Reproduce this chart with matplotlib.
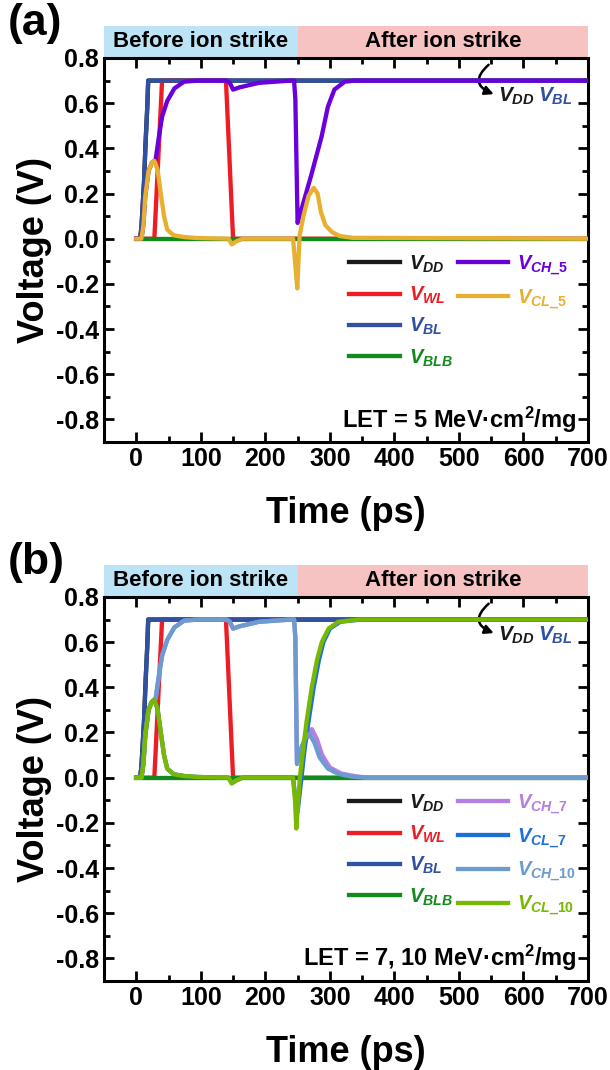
import matplotlib
matplotlib.use('Agg')
import matplotlib.pyplot as plt
from matplotlib.lines import Line2D
from matplotlib.patches import Rectangle
from matplotlib.ticker import MultipleLocator, FuncFormatter

plt.rcParams['font.family'] = ['Liberation Sans', 'DejaVu Sans']
plt.rcParams['font.weight'] = 'bold'
plt.rcParams['axes.labelweight'] = 'bold'
plt.rcParams['mathtext.fontset'] = 'custom'
plt.rcParams['mathtext.it'] = 'Liberation Sans:italic:bold'
plt.rcParams['mathtext.rm'] = 'Liberation Sans:bold'
plt.rcParams['mathtext.bf'] = 'Liberation Sans:bold'
plt.rcParams['axes.linewidth'] = 2.2

# time in ps, voltage in V
# supply and word/bit lines (same in both panels)
t_dd = [0, 6, 8, 12, 14.5, 17, 18.5, 700]
v_dd = [0, 0, 0.05, 0.25, 0.43, 0.58, 0.7, 0.7]
t_bl = [0, 6, 8, 12, 14.5, 17, 18.5, 700]
v_bl = [0, 0, 0.05, 0.25, 0.43, 0.58, 0.7, 0.7]
t_wl = [0, 28, 40, 139, 150, 700]
v_wl = [0, 0, 0.7, 0.7, 0, 0]
t_blb = [0, 700]
v_blb = [0, 0]

# storage nodes before the strike (same for every LET)
t_ch_pre = [0, 8, 11, 14, 19, 24, 30, 35, 40, 48, 59, 74, 95, 140, 145, 150, 160, 190, 240, 244.5]
v_ch_pre = [0, 0, 0.06, 0.19, 0.3, 0.335, 0.35, 0.45, 0.54, 0.61, 0.665, 0.695, 0.7, 0.7, 0.69, 0.66, 0.67, 0.69, 0.7, 0.7]
t_cl_pre = [0, 8, 11, 14, 19, 24, 28, 33, 38, 43, 48, 58, 75, 95, 143, 148, 155, 165, 243]
v_cl_pre = [0, 0, 0.06, 0.19, 0.3, 0.335, 0.345, 0.305, 0.2, 0.1, 0.04, 0.015, 0.007, 0.003, 0, -0.025, -0.012, 0, 0]

# after the strike, LET = 5
t_ch5_post = [246.5, 250, 256, 271, 287, 297, 307, 323, 338, 700]
v_ch5_post = [0.62, 0.07, 0.13, 0.28, 0.45, 0.585, 0.66, 0.695, 0.7, 0.7]
t_cl5_post = [246, 249.5, 253, 259, 267, 275, 281, 286, 293, 303, 315, 335, 700]
v_cl5_post = [-0.1, -0.22, 0.01, 0.1, 0.19, 0.225, 0.2, 0.12, 0.06, 0.03, 0.012, 0.004, 0]

# after the strike, LET = 7 and 10
t_ch7_post = [246.5, 249, 255, 263, 272, 280, 288, 300, 318, 340, 360, 700]
v_ch7_post = [0.62, 0.07, 0.12, 0.17, 0.215, 0.17, 0.1, 0.045, 0.018, 0.006, 0, 0]
t_cl7_post = [246, 250, 256, 261, 267, 275, 283, 290, 300, 316, 348, 700]
v_cl7_post = [-0.08, -0.15, 0.0, 0.13, 0.25, 0.4, 0.52, 0.6, 0.66, 0.69, 0.7, 0.7]
t_ch10_post = [246.5, 249, 254, 261, 268, 276, 284, 297, 313, 333, 355, 700]
v_ch10_post = [0.62, 0.06, 0.12, 0.17, 0.195, 0.155, 0.09, 0.04, 0.017, 0.005, 0, 0]
t_cl10_post = [246, 248, 253.5, 259, 264, 272, 280, 287.5, 298, 313, 344, 700]
v_cl10_post = [-0.1, -0.225, 0.0, 0.135, 0.25, 0.4, 0.52, 0.6, 0.66, 0.69, 0.7, 0.7]

c_dd = '#1a1a1a'
c_wl = '#ee1c25'
c_bl = '#3050a0'
c_blb = '#138a1e'
c_ch5 = '#6a00dc'
c_cl5 = '#e8b030'
c_ch7 = '#b47ee2'
c_cl7 = '#1f6fd8'
c_ch10 = '#6b9bcf'
c_cl10 = '#77b800'

lw = 3.1


def common(ax, let_text):
    ax.set_xlim(-50, 700)
    ax.set_ylim(-0.9, 0.8)
    ax.xaxis.set_major_locator(MultipleLocator(100))
    ax.xaxis.set_minor_locator(MultipleLocator(50))
    ax.yaxis.set_major_locator(MultipleLocator(0.2))
    ax.yaxis.set_minor_locator(MultipleLocator(0.1))
    ax.yaxis.set_major_formatter(FuncFormatter(lambda v, p: '0.0' if abs(v) < 1e-9 else '%.1f' % v))
    ax.tick_params(which='both', direction='in', top=True, right=True, width=2, labelsize=18)
    ax.tick_params(which='major', length=7)
    ax.tick_params(which='minor', length=4)
    ax.set_xlabel('Time (ps)', fontsize=26, labelpad=18)
    ax.set_ylabel('Voltage (V)', fontsize=26, labelpad=3)

    # before / after ion strike bands above the plot
    tr = ax.get_xaxis_transform()
    ax.add_patch(Rectangle((-50, 1.0), 300, 0.083, transform=tr, clip_on=False,
                           facecolor='#bde4f6', edgecolor='none'))
    ax.add_patch(Rectangle((250, 1.0), 450, 0.083, transform=tr, clip_on=False,
                           facecolor='#f6c2c2', edgecolor='none'))
    ax.text(100, 1.042, 'Before ion strike', transform=tr, ha='center', va='center', fontsize=16)
    ax.text(475, 1.042, 'After ion strike', transform=tr, ha='center', va='center', fontsize=16)

    ax.text(0.977, -0.8, let_text, transform=ax.get_yaxis_transform(),
            ha='right', va='center', fontsize=17)

    # curved arrow pointing to the V_DD / V_BL level
    ax.annotate('', xy=(554, 0.64), xytext=(546, 0.77),
                arrowprops=dict(arrowstyle='-|>', color='black', lw=1.8,
                                shrinkA=0, shrinkB=0,
                                connectionstyle='arc3,rad=0.8', mutation_scale=13))
    ax.text(560, 0.632, r'$V_{DD}$', color=c_dd, fontsize=15, ha='left', va='center')
    ax.text(622, 0.632, r'$V_{BL}$', color=c_bl, fontsize=15, ha='left', va='center')


def make_legend(ax, handles):
    leg = ax.legend(handles=handles, ncol=2, loc='upper left', bbox_to_anchor=(0.507, 0.492),
                    frameon=False, fontsize=14.5, handlelength=2.5, handletextpad=0.45,
                    columnspacing=0.25, labelspacing=0.5, borderpad=0, borderaxespad=0)
    for txt, h in zip(leg.get_texts(), handles):
        txt.set_color(h.get_color())


fig = plt.figure(figsize=(6.1, 10.7), dpi=100)
ax_a = fig.add_axes([0.1705, 0.5869, 0.7934, 0.3589])
ax_b = fig.add_axes([0.1705, 0.0832, 0.7934, 0.3589])

# (a) LET = 5
dd, = ax_a.plot(t_dd, v_dd, color=c_dd, lw=lw, label=r'$V_{DD}$', zorder=2)
wl, = ax_a.plot(t_wl, v_wl, color=c_wl, lw=lw, label=r'$V_{WL}$', zorder=3)
blb, = ax_a.plot(t_blb, v_blb, color=c_blb, lw=lw, label=r'$V_{BLB}$', zorder=4)
bl, = ax_a.plot(t_bl, v_bl, color=c_bl, lw=lw, label=r'$V_{BL}$', zorder=5)
ch5, = ax_a.plot(t_ch_pre + t_ch5_post, v_ch_pre + v_ch5_post, color=c_ch5, lw=lw,
                 label=r'$V_{\mathit{CH\_5}}$', zorder=6)
cl5, = ax_a.plot(t_cl_pre + t_cl5_post, v_cl_pre + v_cl5_post, color=c_cl5, lw=lw,
                 label=r'$V_{\mathit{CL\_5}}$', zorder=7)
blank1 = Line2D([], [], color='none', label=' ')
blank2 = Line2D([], [], color='none', label=' ')
common(ax_a, 'LET = 5 MeV\u00b7cm$^{2}$/mg')
make_legend(ax_a, [dd, wl, bl, blb, ch5, cl5, blank1, blank2])

# (b) LET = 7, 10
dd, = ax_b.plot(t_dd, v_dd, color=c_dd, lw=lw, label=r'$V_{DD}$', zorder=2)
wl, = ax_b.plot(t_wl, v_wl, color=c_wl, lw=lw, label=r'$V_{WL}$', zorder=3)
blb, = ax_b.plot(t_blb, v_blb, color=c_blb, lw=lw, label=r'$V_{BLB}$', zorder=4)
bl, = ax_b.plot(t_bl, v_bl, color=c_bl, lw=lw, label=r'$V_{BL}$', zorder=5)
ch7, = ax_b.plot(t_ch_pre + t_ch7_post, v_ch_pre + v_ch7_post, color=c_ch7, lw=lw,
                 label=r'$V_{\mathit{CH\_7}}$', zorder=6)
cl7, = ax_b.plot(t_cl_pre + t_cl7_post, v_cl_pre + v_cl7_post, color=c_cl7, lw=lw,
                 label=r'$V_{\mathit{CL\_7}}$', zorder=7)
ch10, = ax_b.plot(t_ch_pre + t_ch10_post, v_ch_pre + v_ch10_post, color=c_ch10, lw=lw,
                  label=r'$V_{\mathit{CH\_10}}$', zorder=8)
cl10, = ax_b.plot(t_cl_pre + t_cl10_post, v_cl_pre + v_cl10_post, color=c_cl10, lw=lw,
                  label=r'$V_{\mathit{CL\_10}}$', zorder=9)
common(ax_b, 'LET = 7, 10 MeV\u00b7cm$^{2}$/mg')
make_legend(ax_b, [dd, wl, bl, blb, ch7, cl7, ch10, cl10])

fig.text(0.012, 0.978, '(a)', fontsize=32, ha='left', va='center')
fig.text(0.012, 0.474, '(b)', fontsize=32, ha='left', va='center')

fig.savefig('out.png', dpi=100)
